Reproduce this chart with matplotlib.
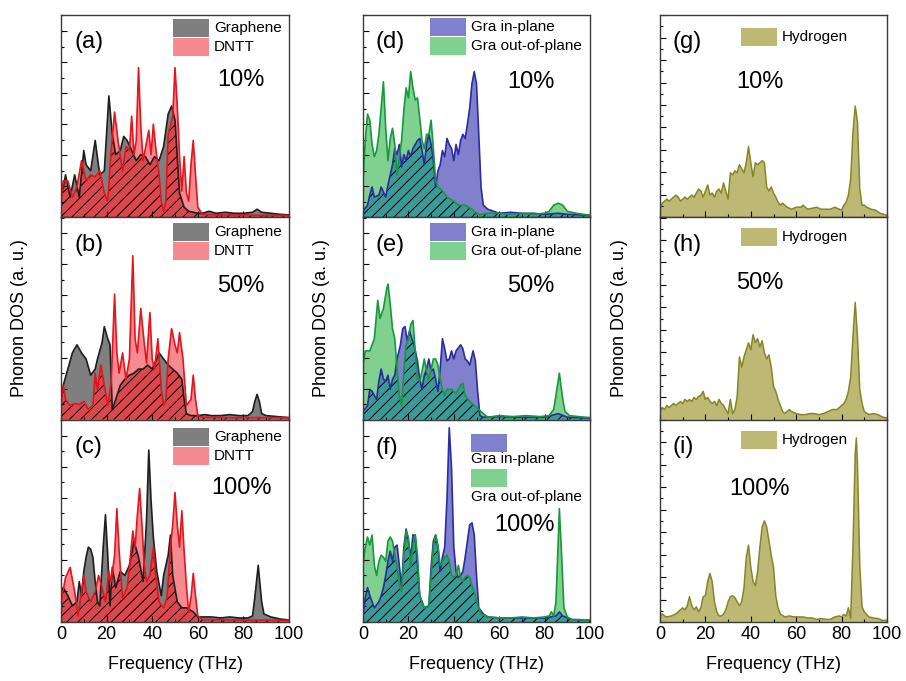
import matplotlib
matplotlib.use("Agg")
import matplotlib.pyplot as plt
from matplotlib.patches import Rectangle
from matplotlib.ticker import MultipleLocator

plt.rcParams['font.family'] = ['Liberation Sans', 'DejaVu Sans']
plt.rcParams['hatch.linewidth'] = 0.7

# ---------------- data (DOS in arbitrary units) ----------------
# (a) 10%  graphene / DNTT
a_gra_f = [0, 1, 2, 4, 6, 8, 10, 11, 13, 15, 17, 19, 21, 22.5, 24, 26, 27.5, 29, 31, 33, 35, 37, 39, 41, 43, 45,
           47, 48.5, 50, 52, 54, 56, 60, 62, 65, 68, 72, 76, 80, 84, 86, 88, 92, 96, 100]
a_gra = [.10, .15, .21, .10, .21, .10, .33, .26, .23, .38, .21, .23, .60, .41, .31, .33, .40, .38, .33, .28, .31, .30,
         .26, .30, .28, .35, .51, .55, .48, .12, .05, .03, .02, .02, .03, .02, .025, .02, .02, .025, .04, .025, .02,
         .015, .012]
a_dntt_f = [0, 1, 3, 5, 7, 9, 11, 13, 15, 17, 19, 20.5, 22, 23.5, 25, 27, 28.5, 30, 31, 32, 33, 34, 35, 36, 37, 38.5,
            39.5, 40.5, 41.5, 43, 44, 45, 46, 47, 49, 50, 51, 52, 53, 54, 55, 56, 57, 58, 59, 60, 62, 70, 80, 90, 100]
a_dntt = [.08, .18, .18, .10, .15, .28, .18, .21, .20, .23, .12, .08, .33, .52, .38, .23, .35, .33, .50, .31, .38, .74,
          .45, .28, .34, .43, .31, .46, .35, .21, .08, .03, .08, .41, .50, .74, .55, .30, .13, .30, .12, .08, .26, .38,
          .21, .05, .015, .012, .012, .01, .01]

# (b) 50%
b_gra_f = [0, 1, 3, 5, 7, 9, 11, 13, 15, 16, 18, 19, 20.5, 21.5, 22.5, 24, 26, 28, 30, 32, 34, 36, 38, 40, 42, 43, 45,
           47, 49, 51, 53, 54, 55, 57, 60, 63, 66, 70, 74, 78, 82, 84, 85, 86, 87, 88, 90, 95, 100]
b_gra = [.10, .17, .25, .33, .37, .33, .30, .22, .25, .30, .38, .46, .40, .37, .05, .10, .17, .20, .22, .23, .25, .25,
         .27, .25, .30, .33, .30, .27, .25, .23, .20, .10, .03, .02, .02, .025, .02, .02, .025, .02, .02, .04, .09, .125,
         .09, .03, .02, .015, .01]
b_dntt_f = [0, 1, 2, 4, 6, 8, 10, 12, 14, 15, 16, 17.5, 19, 20.5, 22, 23.5, 24.5, 25.5, 27, 28.5, 30, 31.5, 32.5, 33.5,
            35, 36.5, 37.5, 39, 40, 41, 42.5, 44, 45, 46, 47, 48.5, 50, 51, 52, 53.5, 55, 57, 58, 59, 60, 62, 75, 90,
            100]
b_dntt = [.10, .17, .10, .07, .08, .075, .09, .05, .07, .23, .15, .27, .17, .07, .18, .62, .33, .23, .33, .20, .30,
          .81, .40, .33, .55, .38, .28, .53, .30, .25, .40, .15, .07, .10, .30, .45, .37, .33, .43, .30, .07, .10, .22,
          .10, .02, .012, .01, .01, .01]

# (c) 100%
c_gra_f = [0, 1, 3, 5, 7, 8, 9, 10, 11, 12, 13, 14, 15, 16, 17, 18.5, 19.5, 20.5, 21.5, 22.5, 24, 26, 28, 30, 32, 34,
           36, 37.5, 38.5, 39.5, 40.5, 42, 44, 45, 47, 48, 49, 51, 53, 55, 58, 60, 62, 66, 70, 74, 78, 82, 84, 85,
           86.5, 88, 89, 92, 96, 100]
c_gra = [.15, .17, .13, .08, .10, .20, .13, .25, .32, .37, .36, .32, .20, .10, .08, .37, .53, .33, .08, .27, .17, .25,
         .23, .28, .40, .32, .20, .50, .85, .60, .42, .25, .13, .23, .33, .43, .23, .10, .07, .07, .05, .025, .025, .025,
         .02, .025, .02, .02, .03, .12, .28, .10, .04, .025, .015, .01]
c_dntt_f = [0, 2, 4, 6, 7.5, 9, 10, 11, 13, 15, 16.5, 18, 19.5, 21, 22, 23.5, 24.5, 25.5, 27, 29, 30.5, 31.5, 32.5,
            33.5, 34.5, 35.5, 36.5, 37.5, 39, 40.5, 41.5, 43, 45, 46.5, 48, 49, 50, 51, 52, 53, 54, 55, 56, 57, 58, 59,
            60, 62, 80, 100]
c_dntt = [.10, .22, .27, .15, .03, .15, .23, .15, .10, .15, .23, .17, .10, .25, .20, .33, .56, .35, .12, .17, .33, .45,
          .37, .53, .66, .48, .28, .20, .23, .37, .23, .10, .07, .12, .37, .48, .64, .48, .37, .55, .35, .18, .05, .12,
          .24, .13, .03, .012, .01, .008]

# (d) 10%  in-plane / out-of-plane
d_in_f = [0, 2, 3, 4, 5, 7, 8, 10, 11, 13, 14, 15, 16, 17, 18, 19, 20, 21, 22, 23, 24, 25, 26, 27, 28, 29, 30, 31, 32,
          33, 34, 35, 36, 37, 38, 39, 40, 41, 42, 43, 44, 45, 46, 47, 48, 49, 50, 51, 52, 53, 55, 60, 65, 70, 75, 80,
          86, 90, 100]
d_in = [.03, .06, .11, .15, .10, .11, .15, .10, .16, .26, .34, .31, .36, .25, .31, .28, .33, .30, .34, .36, .38, .39,
        .33, .26, .36, .41, .36, .28, .15, .23, .26, .33, .30, .39, .36, .34, .28, .36, .31, .38, .41, .39, .46, .54,
        .66, .72, .66, .41, .15, .06, .04, .02, .025, .02, .02, .015, .02, .015, .01]
d_out_f = [0, 1, 2, 3, 4, 5, 6, 7, 8, 9, 10, 11, 12, 13, 14, 15, 16, 17, 18, 19, 20, 21, 22, 23, 24, 25, 26, 27, 28,
           29, 30, 31, 32, 33, 35, 37, 40, 42, 45, 48, 50, 52, 55, 60, 65, 70, 75, 80, 82, 84, 86, 88, 90, 94, 100]
d_out = [.18, .38, .51, .48, .36, .30, .33, .41, .54, .67, .44, .28, .39, .44, .36, .21, .30, .38, .53, .64, .59, .72,
         .64, .58, .59, .49, .38, .34, .41, .41, .48, .34, .18, .15, .13, .10, .08, .06, .06, .04, .02, .013, .02, .02,
         .015, .02, .015, .02, .03, .06, .07, .06, .03, .02, .01]

# (e) 50%
e_in_f = [0, 2, 3, 4, 6, 7, 8, 9, 10, 11, 12, 13, 14, 15, 16.5, 17.5, 18.5, 19.5, 20.5, 21.5, 22.5, 24, 25, 26, 27, 28,
          29, 30, 31, 32, 33, 34, 35, 36, 37, 38, 39, 40, 41, 43, 44, 45, 46, 47, 48.5, 49.5, 50.5, 51.5, 53, 60, 70,
          80, 86, 90, 100]
e_in = [.04, .07, .15, .14, .10, .19, .25, .20, .19, .22, .15, .20, .22, .30, .37, .45, .46, .39, .44, .40, .37, .29,
        .20, .15, .22, .25, .30, .24, .25, .20, .14, .25, .40, .35, .29, .30, .34, .30, .34, .37, .35, .30, .29, .27,
        .34, .29, .14, .02, .012, .015, .012, .012, .03, .012, .008]
e_out_f = [0, 1, 3, 5, 6.5, 7.5, 9, 10.5, 11, 12, 13, 14, 15, 16, 17, 18, 19, 20, 21, 22, 23, 24, 25, 26, 27, 28, 29, 30,
           31, 32, 33, 34, 35, 36, 37, 39, 41, 43, 44, 45, 47, 49, 51, 53, 55, 60, 66, 72, 78, 82, 84, 85, 86.5, 88, 89,
           91, 95, 100]
e_out = [.27, .34, .34, .40, .59, .50, .55, .65, .67, .57, .45, .40, .25, .12, .07, .24, .37, .40, .47, .49, .34, .20,
         .19, .24, .30, .24, .20, .25, .30, .30, .27, .20, .15, .12, .15, .15, .13, .17, .18, .12, .09, .07, .05, .03,
         .012, .02, .015, .02, .015, .02, .05, .12, .23, .10, .04, .02, .015, .01]

# (f) 100%
f_in_f = [0, 1, 2, 3, 4, 5, 7, 8, 9, 10, 11, 12, 13, 14, 15, 16, 17, 18, 19, 20, 21, 22, 23, 24, 25, 27, 29, 30, 31,
          32, 33, 34, 35, 36, 37, 38, 39, 40, 41, 42, 43, 44, 45, 46, 47, 48, 49, 50, 51, 53, 55, 60, 70, 80, 85, 86.5,
          88, 92, 100]
f_in = [.03, .12, .17, .13, .10, .07, .10, .13, .17, .23, .30, .35, .30, .37, .38, .28, .17, .37, .46, .40, .32, .43,
        .43, .28, .13, .07, .08, .27, .40, .43, .37, .25, .32, .37, .61, .96, .76, .37, .25, .22, .23, .25, .32, .40,
        .48, .49, .43, .23, .07, .04, .025, .02, .02, .02, .03, .05, .03, .012, .01]
f_out_f = [0, 1, 2, 3, 4, 5, 6, 7, 8, 9, 10, 11, 12, 13, 14, 15, 16, 17, 18, 19, 20, 21, 22, 23, 24, 25, 27, 29, 30, 31,
           32, 33, 34, 35, 36, 37, 38, 39, 40, 41, 42, 43, 44, 45, 46, 47, 48, 49, 50, 52, 55, 60, 65, 70, 75, 80, 82,
           83, 84, 85, 86, 86.5, 87.5, 88.5, 90, 92, 100]
f_out = [.28, .37, .42, .38, .43, .28, .23, .30, .33, .32, .30, .40, .42, .40, .33, .28, .18, .15, .33, .45, .42, .27,
         .38, .43, .33, .13, .07, .08, .22, .37, .43, .38, .28, .30, .32, .33, .30, .23, .22, .23, .28, .22, .20, .22,
         .23, .22, .18, .15, .10, .04, .025, .02, .02, .025, .02, .025, .03, .05, .03, .10, .40, .56, .33, .07, .025,
         .012, .01]

# (g)(h)(i) hydrogen
g_f = [0, 1, 2, 3, 4, 5, 6, 7, 8, 9, 10, 11, 12, 13, 14, 15, 16, 17, 18, 19, 20, 21, 22, 23, 24, 25, 26, 27, 28, 29,
       30, 31, 32, 33, 34, 35, 36, 37, 38, 39, 40, 41, 42, 43, 44, 45, 46, 47, 48, 49, 50, 51, 52, 53, 54, 56, 58, 60,
       62, 63, 65, 67, 69, 71, 73, 75, 77, 79, 80, 81, 82, 83, 84, 85, 86, 87, 88, 89, 90, 91, 93, 95, 97, 100]
g_h = [.04, .07, .08, .09, .08, .09, .10, .11, .10, .08, .09, .10, .09, .10, .11, .10, .12, .14, .13, .10, .13, .16,
       .11, .12, .10, .13, .14, .12, .17, .13, .09, .22, .21, .23, .22, .26, .24, .22, .27, .35, .27, .20, .27, .26,
       .27, .28, .27, .15, .13, .15, .12, .10, .075, .06, .07, .05, .04, .05, .05, .06, .04, .045, .05, .04, .04, .04,
       .05, .04, .035, .06, .075, .11, .19, .42, .55, .47, .14, .06, .06, .05, .04, .035, .02, .01]
h_f = [0, 1, 2, 3, 4, 5, 6, 7, 8, 9, 10, 11, 12, 13, 14, 15, 16, 17, 18, 19, 20, 21, 22, 23, 24, 25, 26, 27, 28, 29,
       30, 31, 32, 33, 34, 35, 36, 37, 38, 39, 40, 41, 42, 43, 44, 45, 46, 47, 48, 49, 50, 51, 52, 53, 54, 55, 56, 57,
       58, 60, 62, 64, 66, 68, 70, 72, 74, 76, 78, 80, 81, 82, 83, 84, 85, 86, 87, 88, 89, 90, 92, 94, 96, 98, 100]
h_h = [.04, .06, .05, .07, .06, .07, .08, .07, .08, .09, .08, .10, .09, .10, .09, .11, .10, .115, .12, .14, .10, .11,
       .09, .08, .09, .07, .10, .08, .07, .05, .03, .10, .03, .05, .115, .31, .26, .31, .345, .38, .345, .42, .38, .40,
       .36, .39, .33, .30, .32, .26, .165, .14, .10, .07, .04, .03, .04, .05, .04, .03, .025, .025, .03, .03, .025, .03,
       .04, .05, .05, .07, .08, .10, .14, .21, .41, .58, .41, .15, .08, .04, .025, .03, .025, .013, .008]
i_f = [0, 1, 2, 3, 5, 7, 9, 10, 11, 12, 13, 14, 15, 16, 17, 18, 19, 20, 21, 22, 23, 24, 25, 26, 27, 28, 29, 30, 31,
       32, 33, 34, 35, 36, 37, 38, 39, 40, 41, 42, 43, 44, 45, 46, 47, 48, 49, 50, 51, 52, 53, 55, 57, 59, 61, 63, 65,
       67, 69, 71, 73, 75, 77, 79, 80, 81, 82, 83, 84, 85, 86, 86.5, 87, 88, 89, 90, 92, 94, 96, 98, 100]
i_h = [.03, .04, .03, .025, .03, .04, .06, .07, .06, .08, .125, .08, .06, .075, .05, .07, .125, .13, .20, .24, .20,
       .10, .05, .03, .03, .04, .06, .10, .125, .13, .12, .10, .08, .10, .17, .32, .38, .27, .20, .18, .25, .37, .47,
       .50, .47, .40, .33, .27, .13, .07, .04, .025, .03, .025, .025, .025, .02, .02, .013, .017, .013, .013, .025,
       .03, .025, .037, .03, .07, .017, .37, .83, .91, .78, .28, .075, .05, .025, .02, .017, .008, .008]

# ---------------- figure ----------------
fig = plt.figure(figsize=(9.06, 6.81), dpi=100)
W, H = 906.0, 681.0
col_left = [61, 363, 660]
col_width = [228, 227, 227]
top, bottom = 15, 622
ph = (bottom - top) / 3.0


def make_ax(col, row, ymajor):
    x0 = col_left[col]
    y0 = top + ph * (row + 1)
    ax = fig.add_axes([x0 / W, 1 - y0 / H, col_width[col] / W, ph / H])
    ax.set_xlim(0, 100)
    ax.set_ylim(0, 1)
    ax.xaxis.set_major_locator(MultipleLocator(20))
    ax.xaxis.set_minor_locator(MultipleLocator(10))
    ax.yaxis.set_major_locator(MultipleLocator(ymajor))
    ax.yaxis.set_minor_locator(MultipleLocator(ymajor / 2))
    ax.tick_params(which='both', direction='in', left=True, bottom=True, right=False, top=False,
                   labelleft=False, labelbottom=(row == 2), labelsize=13, pad=3)
    ax.tick_params(which='major', length=4, width=0.8)
    ax.tick_params(which='minor', length=2, width=0.8)
    for s in ax.spines.values():
        s.set_linewidth(1.0)
        s.set_color('#3a3a3a')
    return ax


def key(ax, x, ytop, color, label):
    hgt = 0.088
    ax.add_patch(Rectangle((x, ytop - hgt), 0.16, hgt, transform=ax.transAxes,
                           facecolor=color, edgecolor='none', clip_on=False))
    if label:
        ax.text(x + 0.18, ytop - hgt / 2, label, transform=ax.transAxes, fontsize=11, va='center', ha='left')


def pair(ax, f1, v1, f2, v2, fill1, line1, fill2, line2, over):
    # overlap of the two DOS areas is drawn hatched
    p1 = ax.fill_between(f1, 0, v1, facecolor=fill1, linewidth=0)
    ax.fill_between(f2, 0, v2, facecolor=fill2, linewidth=0)
    hat = ax.fill_between(f2, 0, v2, facecolor=over, edgecolor='k', hatch='///', linewidth=0)
    hat.set_clip_path(p1.get_paths()[0], ax.transData)
    ax.plot(f1, v1, color=line1, lw=1.2)
    ax.plot(f2, v2, color=line2, lw=1.2)


GRA_FILL, GRA_LINE = '#7f7f7f', '#1e1e1e'
DNTT_FILL, DNTT_LINE = '#f58a90', '#e5141d'
RED_OVER = '#db474d'
IN_FILL, IN_LINE = '#8080cc', '#2b2ba6'
OUT_FILL, OUT_LINE = '#80d08f', '#159a3a'
TEAL_OVER = '#3b9a98'
H_FILL, H_LINE = '#bdb974', '#868628'

col1 = [("(a)", "10%", a_gra_f, a_gra, a_dntt_f, a_dntt, 0.98, 0.68),
        ("(b)", "50%", b_gra_f, b_gra, b_dntt_f, b_dntt, 0.97, 0.66),
        ("(c)", "100%", c_gra_f, c_gra, c_dntt_f, c_dntt, 0.96, 0.66)]
for r, (lab, pct, gf, g, df, d, ktop, py) in enumerate(col1):
    ax = make_ax(0, r, 0.1535)
    pair(ax, gf, g, df, d, GRA_FILL, GRA_LINE, DNTT_FILL, DNTT_LINE, RED_OVER)
    ax.text(0.06, 0.865, lab, transform=ax.transAxes, fontsize=17, va='center')
    ax.text(0.79, py, pct, transform=ax.transAxes, fontsize=17, va='center', ha='center')
    key(ax, 0.49, ktop, GRA_FILL, "Graphene")
    key(ax, 0.49, ktop - 0.094, DNTT_FILL, "DNTT")
    if r == 2:
        ax.set_xlabel("Frequency (THz)", fontsize=13, labelpad=9)

col2 = [("(d)", "10%", d_in_f, d_in, d_out_f, d_out, 0.985, 0.668),
        ("(e)", "50%", e_in_f, e_in, e_out_f, e_out, 0.97, 0.66)]
for r, (lab, pct, inf, vin, outf, vout, ktop, py) in enumerate(col2):
    ax = make_ax(1, r, 0.1535)
    pair(ax, inf, vin, outf, vout, IN_FILL, IN_LINE, OUT_FILL, OUT_LINE, TEAL_OVER)
    ax.text(0.053, 0.865, lab, transform=ax.transAxes, fontsize=17, va='center')
    ax.text(0.74, py, pct, transform=ax.transAxes, fontsize=17, va='center', ha='center')
    key(ax, 0.295, ktop, IN_FILL, "Gra in-plane")
    key(ax, 0.295, ktop - 0.094, OUT_FILL, "Gra out-of-plane")

ax = make_ax(1, 2, 0.1535)
pair(ax, f_in_f, f_in, f_out_f, f_out, IN_FILL, IN_LINE, OUT_FILL, OUT_LINE, TEAL_OVER)
ax.text(0.053, 0.86, "(f)", transform=ax.transAxes, fontsize=17, va='center')
ax.text(0.71, 0.48, "100%", transform=ax.transAxes, fontsize=17, va='center', ha='center')
key(ax, 0.476, 0.93, IN_FILL, None)
ax.text(0.476, 0.805, "Gra in-plane", transform=ax.transAxes, fontsize=11, va='center')
key(ax, 0.476, 0.755, OUT_FILL, None)
ax.text(0.476, 0.62, "Gra out-of-plane", transform=ax.transAxes, fontsize=11, va='center')
ax.set_xlabel("Frequency (THz)", fontsize=13, labelpad=9)

col3 = [("(g)", "10%", g_f, g_h, 0.937, 0.668),
        ("(h)", "50%", h_f, h_h, 0.946, 0.675),
        ("(i)", "100%", i_f, i_h, 0.945, 0.657)]
for r, (lab, pct, hf, hv, ktop, py) in enumerate(col3):
    ax = make_ax(2, r, 0.111)
    ax.fill_between(hf, 0, hv, facecolor=H_FILL, linewidth=0)
    ax.plot(hf, hv, color=H_LINE, lw=1.1)
    ax.text(0.057, 0.865, lab, transform=ax.transAxes, fontsize=17, va='center')
    ax.text(0.44, py, pct, transform=ax.transAxes, fontsize=17, va='center', ha='center')
    key(ax, 0.357, ktop, H_FILL, "Hydrogen")
    if r == 2:
        ax.set_xlabel("Frequency (THz)", fontsize=13, labelpad=9)

for xc in [20, 322, 620]:
    fig.text(xc / W, 1 - 318 / H, "Phonon DOS (a. u.)", rotation=90, fontsize=13, ha='center', va='center')

fig.savefig("out.png", dpi=100)
